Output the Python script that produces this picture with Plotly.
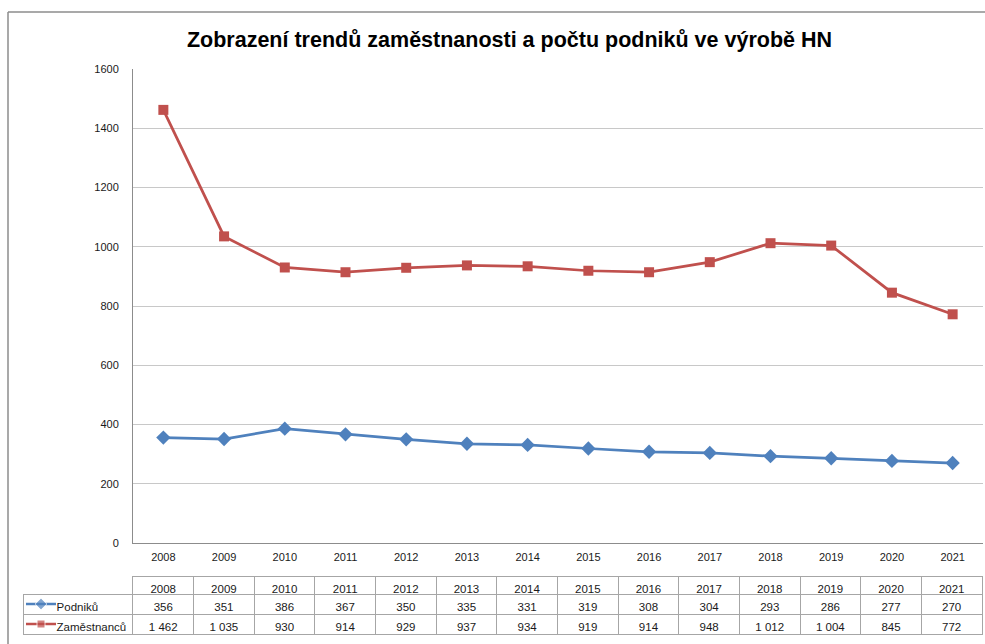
import plotly.graph_objects as go

years = ["2008", "2009", "2010", "2011", "2012", "2013", "2014",
         "2015", "2016", "2017", "2018", "2019", "2020", "2021"]
podniku = [356, 351, 386, 367, 350, 335, 331, 319, 308, 304, 293, 286, 277, 270]
zamestnancu = [1462, 1035, 930, 914, 929, 937, 934, 919, 914, 948, 1012, 1004, 845, 772]

title_text = "Zobrazení trendů zaměstnanosti a počtu podniků ve výrobě HN"
name_p = "Podniků"
name_z = "Zaměstnanců"

BLUE = "#4F81BD"
RED = "#C0504D"
W, H = 985, 644


def fmt(v):
    return f"{v:,}".replace(",", " ")


def px_x(x):
    return x / W


def px_y(y):
    return (H - y) / H


fig = go.Figure()

fig.add_trace(go.Scatter(
    x=years, y=podniku, name=name_p, mode="lines+markers",
    line=dict(color=BLUE, width=2.75),
    marker=dict(symbol="diamond", size=11, color=BLUE),
))
fig.add_trace(go.Scatter(
    x=years, y=zamestnancu, name=name_z, mode="lines+markers",
    line=dict(color=RED, width=2.75),
    marker=dict(symbol="square", size=10, color=RED),
))

# legend keys inside the table's first column
fig.add_trace(go.Scatter(
    x=[0, 0.5, 1], y=[1, 1, 1], mode="lines+markers", xaxis="x2", yaxis="y2",
    line=dict(color=BLUE, width=2.5),
    marker=dict(symbol="diamond", size=[0, 9, 0], color=BLUE),
))
fig.add_trace(go.Scatter(
    x=[0, 0.5, 1], y=[0, 0, 0], mode="lines+markers", xaxis="x2", yaxis="y2",
    line=dict(color=RED, width=2.5),
    marker=dict(symbol="square", size=[0, 8, 0], color=RED),
))

pad = "\u00a0" * 8
col_values = [[pad + name_p, pad + name_z]] + [[fmt(p), fmt(z)] for p, z in zip(podniku, zamestnancu)]

fig.add_trace(go.Table(
    domain=dict(x=[px_x(23), px_x(983)], y=[px_y(636), px_y(576)]),
    columnwidth=[110] + [60.7] * len(years),
    header=dict(
        values=[""] + years,
        align="center",
        height=18,
        line=dict(color=["rgba(0,0,0,0)"] + ["#a6a6a6"] * len(years), width=1),
        fill=dict(color=["rgba(0,0,0,0)"] + ["white"] * len(years)),
        font=dict(family="Liberation Sans", size=11.5, color="#1a1a1a"),
    ),
    cells=dict(
        values=col_values,
        align=["left"] + ["center"] * len(years),
        height=20,
        line=dict(color="#a6a6a6", width=1),
        fill=dict(color=["rgba(0,0,0,0)"] + ["white"] * len(years)),
        font=dict(family="Liberation Sans", size=11.5, color="#1a1a1a"),
    ),
))

fig.update_layout(
    width=W, height=H,
    margin=dict(l=0, r=0, t=0, b=0, autoexpand=False),
    paper_bgcolor="white", plot_bgcolor="white",
    showlegend=False,
    hovermode=False,
    title=dict(
        text=f"<b>{title_text}</b>",
        x=px_x(509.5), xanchor="center", xref="paper",
        y=px_y(39), yanchor="middle",
        font=dict(family="Liberation Sans", size=21.5, color="black"),
    ),
    xaxis=dict(
        domain=[px_x(133), px_x(983)],
        type="category",
        range=[-0.5, 13.5],
        showgrid=False, automargin=False,
        showline=True, linecolor="#8c8c8c", linewidth=1,
        ticks="", ticklabelstandoff=4,
        tickfont=dict(family="Liberation Sans", size=11, color="#1a1a1a"),
        fixedrange=True,
    ),
    yaxis=dict(
        domain=[px_y(543), px_y(69)],
        range=[0, 1600], dtick=200,
        showgrid=True, gridcolor="#c8c8c8", gridwidth=1, automargin=False,
        showline=True, linecolor="#8c8c8c", linewidth=1,
        zeroline=False,
        ticks="", ticklabelstandoff=11,
        tickfont=dict(family="Liberation Sans", size=11, color="#1a1a1a"),
        fixedrange=True,
    ),
    xaxis2=dict(
        domain=[px_x(26), px_x(56)], range=[0, 1], visible=False,
        automargin=False, fixedrange=True,
    ),
    yaxis2=dict(
        domain=[px_y(634), px_y(594)], range=[-0.5, 1.5], visible=False,
        automargin=False, fixedrange=True,
    ),
    shapes=[
        dict(type="line", xref="paper", yref="paper",
             x0=px_x(8), x1=1.0, y0=px_y(12), y1=px_y(12),
             line=dict(color="#8c8c8c", width=1.5)),
        dict(type="line", xref="paper", yref="paper",
             x0=px_x(8), x1=px_x(8), y0=px_y(12), y1=0,
             line=dict(color="#8c8c8c", width=1.5)),
    ],
)

fig.write_html(
    "out.html",
    config={"displayModeBar": False},
    post_script="document.body.style.margin='0';document.body.style.overflow='hidden';",
)
